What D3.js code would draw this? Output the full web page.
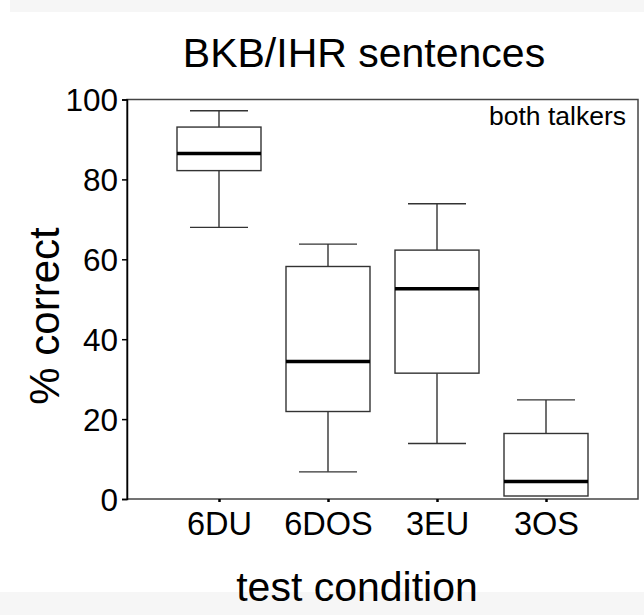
<!DOCTYPE html>
<html>
<head>
<meta charset="utf-8">
<script src="https://cdn.jsdelivr.net/npm/d3@7"></script>
<style>
  html, body { margin: 0; padding: 0; background: #ffffff; }
  svg { display: block; }
  text { font-family: "Liberation Sans", Arial, sans-serif; fill: #000; }
</style>
</head>
<body>
<svg id="chart" width="644" height="615"></svg>
<script>
const categories = ["6DU", "6DOS", "3EU", "3OS"];
const whiskerLow = [68.0, 6.8, 13.9, 0.75];
const q1 = [82.2, 21.9, 31.5, 0.75];
const median = [86.5, 34.4, 52.6, 4.4];
const q3 = [93.1, 58.2, 62.3, 16.4];
const whiskerHigh = [97.2, 63.8, 73.9, 24.8];
const yTicks = [0, 20, 40, 60, 80, 100];
const titleText = "BKB/IHR sentences";
const xLabel = "test condition";
const yLabel = "% correct";
const annotation = "both talkers";

const svg = d3.select("#chart");
const W = 644, H = 615;
const plot = { left: 127, right: 638, top: 99.5, bottom: 499 };

// background strips
svg.append("rect").attr("x", 10).attr("y", 0).attr("width", W - 10).attr("height", 12).attr("fill", "#f6f6f6");
svg.append("rect").attr("x", 0).attr("y", 592).attr("width", W).attr("height", H - 592).attr("fill", "#f6f6f6");

const x = d3.scalePoint().domain(categories).range([plot.left, plot.right]).padding(0.844);
const y = d3.scaleLinear().domain([0, 100]).range([plot.bottom, plot.top]);

const boxW = 84, capW = 58;
const data = categories.map((c, i) => ({
  c, lo: whiskerLow[i], q1: q1[i], med: median[i], q3: q3[i], hi: whiskerHigh[i]
}));

const g = svg.append("g");
const boxes = g.selectAll("g.box").data(data).join("g").attr("class", "box");
const stroke = "#333";

// whiskers
boxes.append("line")
  .attr("x1", d => x(d.c)).attr("x2", d => x(d.c))
  .attr("y1", d => y(d.q3)).attr("y2", d => y(d.hi))
  .attr("stroke", stroke).attr("stroke-width", 1.4);
boxes.append("line")
  .attr("x1", d => x(d.c)).attr("x2", d => x(d.c))
  .attr("y1", d => y(d.q1)).attr("y2", d => y(d.lo))
  .attr("stroke", stroke).attr("stroke-width", 1.4);
boxes.append("line")
  .attr("x1", d => x(d.c) - capW / 2).attr("x2", d => x(d.c) + capW / 2)
  .attr("y1", d => y(d.hi)).attr("y2", d => y(d.hi))
  .attr("stroke", stroke).attr("stroke-width", 1.4);
boxes.append("line")
  .attr("x1", d => x(d.c) - capW / 2).attr("x2", d => x(d.c) + capW / 2)
  .attr("y1", d => y(d.lo)).attr("y2", d => y(d.lo))
  .attr("stroke", stroke).attr("stroke-width", 1.4)
  .attr("display", d => d.lo === d.q1 ? "none" : null);
// box
boxes.append("rect")
  .attr("x", d => x(d.c) - boxW / 2).attr("width", boxW)
  .attr("y", d => y(d.q3)).attr("height", d => y(d.q1) - y(d.q3))
  .attr("fill", "#fff").attr("stroke", stroke).attr("stroke-width", 1.4);
// median
boxes.append("line")
  .attr("x1", d => x(d.c) - boxW / 2).attr("x2", d => x(d.c) + boxW / 2)
  .attr("y1", d => y(d.med)).attr("y2", d => y(d.med))
  .attr("stroke", "#000").attr("stroke-width", 3.5);

// frame
svg.append("rect")
  .attr("x", plot.left).attr("y", plot.top)
  .attr("width", plot.right - plot.left).attr("height", plot.bottom - plot.top)
  .attr("fill", "none").attr("stroke", "#444").attr("stroke-width", 1.5);

// y axis
const yAxis = svg.append("g")
  .attr("transform", `translate(${plot.left},0)`)
  .call(d3.axisLeft(y).tickValues(yTicks).tickSize(5).tickPadding(4).tickFormat(d3.format("d")));
yAxis.select(".domain").attr("stroke", "#000").attr("stroke-width", 1.5);
yAxis.selectAll(".tick line").attr("stroke", "#000").attr("stroke-width", 1.5);
yAxis.selectAll(".tick text")
  .attr("font-size", 31.5).attr("font-family", "Liberation Sans, Arial, sans-serif")
  .attr("dy", "0.36em").attr("fill", "#000");

// x axis
const xAxis = svg.append("g")
  .attr("transform", `translate(0,${plot.bottom})`)
  .call(d3.axisBottom(x).tickSize(3).tickPadding(10));
xAxis.select(".domain").remove();
xAxis.selectAll(".tick line").attr("stroke", "#000").attr("stroke-width", 2.5);
xAxis.selectAll(".tick text")
  .attr("font-size", 32.5).attr("font-family", "Liberation Sans, Arial, sans-serif")
  .attr("fill", "#000");

// title
svg.append("text").attr("x", 364).attr("y", 67)
  .attr("text-anchor", "middle").attr("font-size", 41).text(titleText);

// annotation
svg.append("text").attr("x", 626).attr("y", 125)
  .attr("text-anchor", "end").attr("font-size", 26.5).text(annotation);

// x label
svg.append("text").attr("x", 357).attr("y", 601)
  .attr("text-anchor", "middle").attr("font-size", 41).text(xLabel);

// y label
svg.append("text")
  .attr("transform", `translate(59,316) rotate(-90)`)
  .attr("text-anchor", "middle").attr("font-size", 42).text(yLabel);
</script>
</body>
</html>
